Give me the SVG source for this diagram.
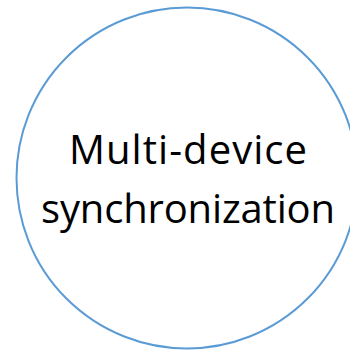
<svg xmlns="http://www.w3.org/2000/svg" width="350" height="351" viewBox="0 0 350 351">
  <style>
    .node-shape { fill: #ffffff; stroke: #5b9bd5; stroke-width: 2; }
    .node-label { font-family: "Open Sans", "Noto Sans", sans-serif; font-size: 40px; fill: #000000; text-anchor: middle; }
  </style>
  <rect width="350" height="351" fill="#ffffff"/>
  <g id="connectors"></g>
  <g id="node-sync">
    <circle class="node-shape" cx="187" cy="178" r="170.5"/>
    <text class="node-label" x="188" y="164" textLength="238" lengthAdjust="spacing">Multi-device</text>
    <text class="node-label" x="188" y="223" textLength="294" lengthAdjust="spacing">synchronization</text>
  </g>
</svg>
